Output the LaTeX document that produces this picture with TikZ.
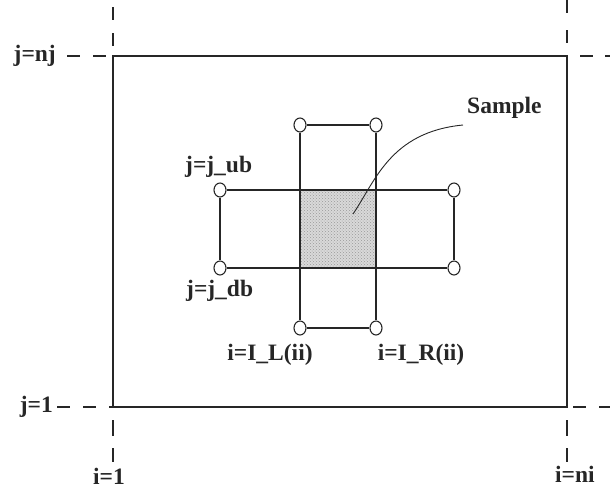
\documentclass[tikz,border=0pt]{standalone}
\usepackage{fontspec}
\usetikzlibrary{shapes.geometric,patterns}
\setmainfont{Liberation Serif}
\begin{document}
\begin{tikzpicture}[x=1pt,y=-1pt,
  ln/.style={line width=1.2pt, black!85},
  dl/.style={line width=1.1pt, black!85, dash pattern=on 13pt off 13pt},
  pt/.style={ellipse, draw=black!85, line width=1.1pt, fill=white, minimum width=12pt, minimum height=14pt, inner sep=0pt},
  lbl/.style={font=\fontsize{23.5}{25}\selectfont\bfseries, inner sep=0pt, text=black!85}]
\useasboundingbox (0,0) rectangle (610,491);
% outer domain
\coordinate (TL) at (113,56);
\coordinate (TR) at (567,56);
\coordinate (BL) at (113,407);
\coordinate (BR) at (567,407);
\draw[ln] (TL) rectangle (BR);
% dashed extensions
\coordinate (tlu) at (113,7);
\coordinate (tll) at (67,56);
\coordinate (tru) at (567,0);
\coordinate (trr1) at (580,56);
\coordinate (trr2) at (610,56);
\coordinate (bll) at (57,407);
\coordinate (bld1) at (113,420);
\coordinate (bld2) at (113,462);
\coordinate (brr1) at (573,407);
\coordinate (brr2) at (610,407);
\coordinate (brd1) at (567,420);
\coordinate (brd2) at (567,462);
\draw[dl] (tlu) -- (TL);
\draw[dl] (tll) -- (TL);
\draw[dl, dash pattern=on 13pt off 17pt] (tru) -- (TR);
\draw[dl, dash pattern=on 13pt off 12pt] (trr1) -- (trr2);
\draw[dl] (bll) -- (BL);
\draw[dl, dash pattern=on 16pt off 12pt] (bld1) -- (bld2);
\draw[dl] (brr1) -- (brr2);
\draw[dl, dash pattern=on 16pt off 12pt] (brd1) -- (brd2);
% sample (shaded)
\fill[gray!30] (300,190) rectangle (376,268);
\fill[pattern=crosshatch dots, pattern color=gray!80] (300,190) rectangle (376,268);
% corner points
\node[pt] (vt1) at (300,125) {};
\node[pt] (vt2) at (376,125) {};
\node[pt] (vb1) at (300,328) {};
\node[pt] (vb2) at (376,328) {};
\node[pt] (hl1) at (220,190) {};
\node[pt] (hl2) at (220,268) {};
\node[pt] (hr1) at (454,190) {};
\node[pt] (hr2) at (454,268) {};
\draw[ln] (vt1) -- (vt2);
\draw[ln] (vb1) -- (vb2);
\draw[ln] (vt1) -- (vb1);
\draw[ln] (vt2) -- (vb2);
\draw[ln] (hl1) -- (hl2);
\draw[ln] (hr1) -- (hr2);
\draw[ln] (hl1) -- (hr1);
\draw[ln] (hl2) -- (hr2);
% sample label and pointer
\node[lbl, anchor=west] (smp) at (467,108) {Sample};
\coordinate (sp) at (353,214);
\coordinate (se) at (463,125);
\draw[line width=0.9pt, black!85] (sp) .. controls (375,182) and (390,132) .. (se);
% labels
\node[lbl, anchor=east] (jnj) at (56,56) {j=nj};
\node[lbl, anchor=east] (j1) at (53,407) {j=1};
\node[lbl] (i1) at (109,476) {i=1};
\node[lbl, anchor=west] (ini) at (555,474) {i=ni};
\node[lbl, anchor=west] (jub) at (185,167) {j=j\_ub};
\node[lbl, anchor=west] (jdb) at (186,291) {j=j\_db};
\node[lbl] (il) at (270,355) {i=I\_L(ii)};
\node[lbl] (ir) at (421,355) {i=I\_R(ii)};
\end{tikzpicture}
\end{document}
